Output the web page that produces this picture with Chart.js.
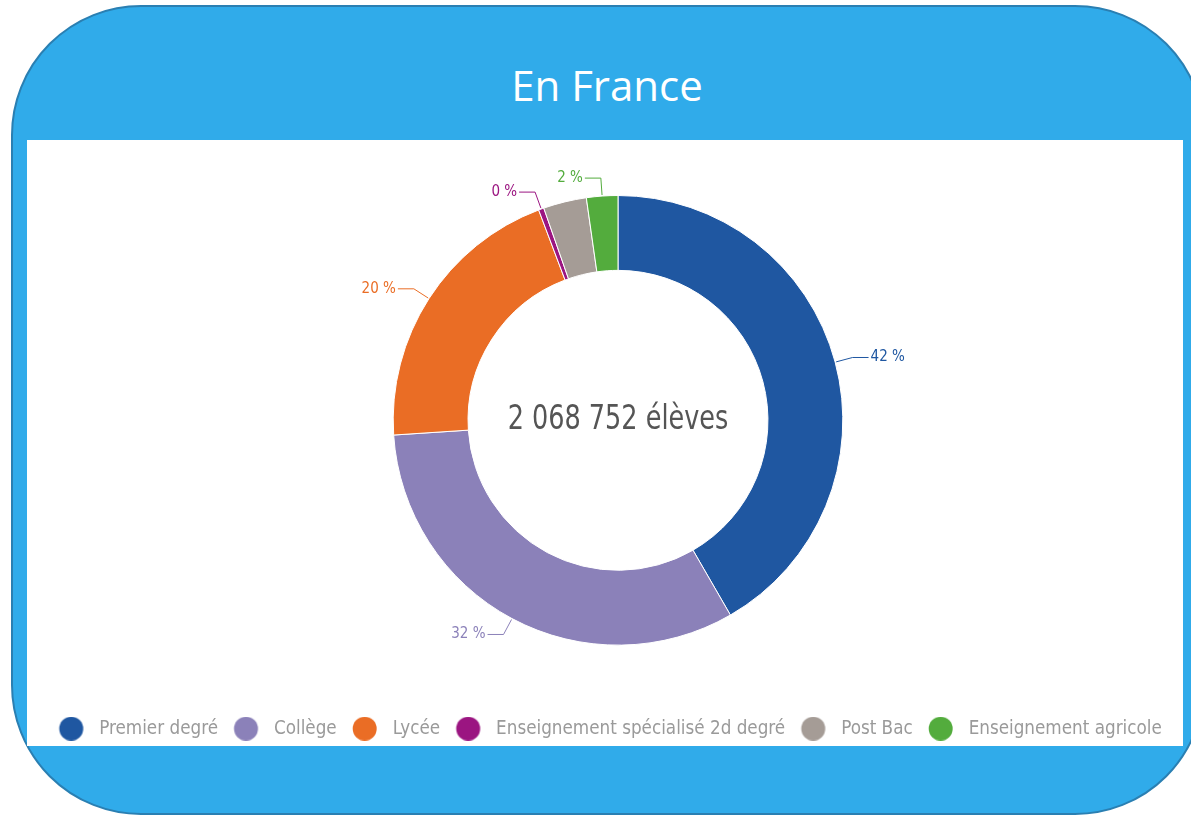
<!DOCTYPE html>
<html>
<head>
<meta charset="utf-8">
<title>En France</title>
<script src="https://cdn.jsdelivr.net/npm/chart.js@4.4.1/dist/chart.umd.min.js"></script>
<style>
  html, body { margin: 0; padding: 0; background: #fff; width: 1191px; height: 816px; overflow: hidden; }
  .card {
    position: absolute; left: 11px; top: 5px; width: 1194px; height: 810px;
    box-sizing: border-box; border: 2px solid #2a7fb2; border-radius: 130px;
    background: #30abea;
  }
  .title {
    position: absolute; left: 0; top: 58px; width: 1214px; text-align: center;
    color: #fff; font: 42px "Open Sans", "Noto Sans", sans-serif; line-height: 54px;
  }
  .panel { position: absolute; left: 27px; top: 140px; width: 1156px; height: 606px; background: #fff; }
  .chart-box { position: absolute; left: 0; top: 140px; width: 1191px; height: 608px; }
</style>
</head>
<body>
<div class="card"></div>
<div class="title">En France</div>
<div class="panel"></div>
<div class="chart-box"><canvas id="pupilsChart" width="1191" height="608"></canvas></div>
<script>
// Pupils by level
const categories = ['Premier degré', 'Collège', 'Lycée', 'Enseignement spécialisé 2d degré', 'Post Bac', 'Enseignement agricole'];
const pupils = [862000, 668000, 420000, 8000, 64200, 46552];
const sliceColors = ['#1f57a1', '#8b81b9', '#ea6d25', '#9b1581', '#a59c96', '#53ac3d'];
const showLabel = [true, true, true, true, false, true];

const NARROW = '"Liberation Sans Narrow", "DejaVu Sans Condensed", "Roboto Condensed", sans-serif';
const LEGEND_SIZE = 18.7;
const total = pupils.reduce((a, b) => a + b, 0);

function frNumber(n) {
    return String(n).replace(/\B(?=(\d{3})+(?!\d))/g, ' ');
}

// legend dot, drawn a bit left of the box centre so the text sits further away
function legendDot(color) {
    const c = document.createElement('canvas');
    c.width = 40;
    c.height = 24;
    const g = c.getContext('2d');
    g.fillStyle = color;
    g.beginPath();
    g.arc(16.7, 12, 12, 0, Math.PI * 2);
    g.fill();
    return c;
}
const legendDots = sliceColors.map(legendDot);

// Percent labels with leader lines
const leaderLabels = {
    id: 'leaderLabels',
    afterDatasetsDraw(chart) {
        const ctx = chart.ctx;
        const meta = chart.getDatasetMeta(0);
        ctx.save();
        ctx.font = '15px ' + NARROW;
        ctx.textBaseline = 'middle';
        ctx.lineWidth = 1;
        meta.data.forEach((arc, i) => {
            if (!showLabel[i]) return;
            const p = arc.getProps(['x', 'y', 'startAngle', 'endAngle', 'outerRadius'], true);
            const a = (p.startAngle + p.endAngle) / 2;
            const cos = Math.cos(a), sin = Math.sin(a);
            const side = cos >= 0 ? 1 : -1;
            const x0 = p.x + (p.outerRadius + 1) * cos;
            const y0 = p.y + (p.outerRadius + 1) * sin;
            const x1 = p.x + (p.outerRadius + 18) * cos;
            const y1 = p.y + (p.outerRadius + 18) * sin;
            const x2 = x1 + side * 16;
            ctx.strokeStyle = sliceColors[i];
            ctx.beginPath();
            ctx.moveTo(x0, y0);
            ctx.lineTo(x1, y1);
            ctx.lineTo(x2, y1);
            ctx.stroke();
            ctx.fillStyle = sliceColors[i];
            ctx.textAlign = side > 0 ? 'left' : 'right';
            const pct = Math.round(pupils[i] / total * 100);
            ctx.fillText(pct + ' %', x2 + side * 2, y1);
        });
        ctx.restore();
    }
};

// Total in the hole
const centerText = {
    id: 'centerText',
    afterDatasetsDraw(chart) {
        const arc = chart.getDatasetMeta(0).data[0];
        const ctx = chart.ctx;
        ctx.save();
        ctx.translate(arc.x, arc.y);
        ctx.scale(0.86, 1);
        ctx.font = '33px ' + NARROW;
        ctx.fillStyle = '#555';
        ctx.textAlign = 'center';
        ctx.textBaseline = 'middle';
        ctx.fillText(frNumber(total) + ' élèves', 0, 0);
        ctx.restore();
    }
};

// legend sits a little left of the doughnut centre
const legendShift = {
    id: 'legendShift',
    afterLayout(chart) {
        chart.legend.left -= 7.5;
        chart.legend.right -= 7.5;
    }
};

const pupilsChart = new Chart(document.getElementById('pupilsChart'), {
    type: 'doughnut',
    data: {
        labels: categories,
        datasets: [{
            data: pupils,
            backgroundColor: sliceColors,
            borderColor: '#fff',
            borderWidth: 1
        }]
    },
    options: {
        responsive: false,
        animation: false,
        cutout: '66.7%',
        layout: { padding: { left: 45, top: 55, bottom: 0 } },
        plugins: {
            tooltip: { enabled: false },
            legend: {
                position: 'bottom',
                title: { display: true, text: '', padding: { top: 0, bottom: 43.25 } },
                labels: {
                    usePointStyle: true,
                    pointStyleWidth: 30.6,
                    color: '#9a9a9a',
                    font: { family: NARROW, size: LEGEND_SIZE },
                    padding: 16,
                    generateLabels(chart) {
                        const items = Chart.overrides.doughnut.plugins.legend.labels.generateLabels(chart);
                        items.forEach((item, i) => { item.pointStyle = legendDots[i]; });
                        return items;
                    }
                }
            }
        }
    },
    plugins: [leaderLabels, centerText, legendShift]
});
</script>
</body>
</html>
